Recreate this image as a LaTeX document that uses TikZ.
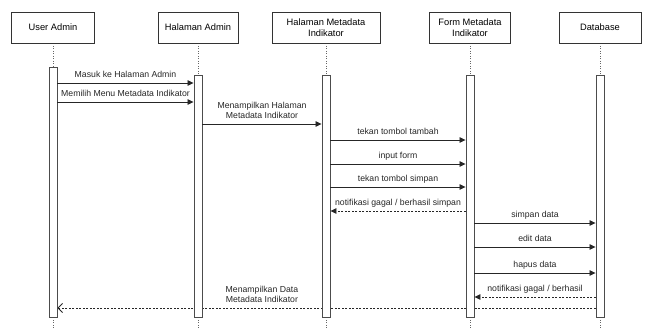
\documentclass[tikz,border=0pt]{standalone}
\usepackage{fontspec}
\setmainfont{Liberation Sans}
\usetikzlibrary{arrows.meta,backgrounds}

\tikzset{
  obj/.style={draw=black!80, fill=white, line width=0.8pt, minimum height=31pt, inner sep=1pt,
    align=center, font=\fontsize{9.3}{11}\selectfont},
  bar/.style={draw=black!70, fill=white, line width=0.9pt, minimum width=8pt, inner sep=0pt},
  life/.style={black!60, line width=0.7pt, dash pattern=on 1pt off 1.5pt},
  msg/.style={black!85, line width=0.8pt, -{Triangle[length=6pt,width=5.5pt]}},
  ret/.style={msg, dash pattern=on 2pt off 1.5pt},
  lbl/.style={above=3pt, inner sep=0pt, text height=6.3pt, text depth=1.8pt,
    align=center, font=\fontsize{8.7}{10.5}\selectfont}
}

\begin{document}
\begin{tikzpicture}[x=1pt, y=-1pt]
  \useasboundingbox (0,0) rectangle (648,329);
  %%objects
  \node[obj, minimum width=83pt] (ua) at (53,27.5) {User Admin};
  \node[obj, minimum width=80pt] (ha) at (198,27.5) {Halaman Admin};
  \node[obj, minimum width=108pt] (hm) at (326,27.5) {Halaman Metadata\\Indikator};
  \node[obj, minimum width=81pt] (fm) at (470,27.5) {Form Metadata\\Indikator};
  \node[obj, minimum width=82pt] (db) at (600,27.5) {Database};

  %%activation bars
  \node[bar, minimum height=250pt] (uab) at (53,192) {};
  \node[bar, minimum height=242pt] (hab) at (198,196) {};
  \node[bar, minimum height=242pt] (hmb) at (326,196) {};
  \node[bar, minimum height=242pt] (fmb) at (470,196) {};
  \node[bar, minimum height=242pt] (dbb) at (600,196) {};

  \begin{scope}[on background layer]
    %%lifelines
    \foreach \o/\b in {ua/uab, ha/hab, hm/hmb, fm/fmb, db/dbb} {
      \draw[life] (\o.south) -- (\b.north);
      \draw[life] (\b.south) -- (\b.south |- 0,329);
    }
    %%back to user
    \draw[black!85, line width=0.8pt, dash pattern=on 2pt off 1.5pt,
      -{Straight Barb[length=4.5pt,width=9pt]}] (dbb.west |- 0,308)
      -- node[lbl, pos=0.62]{Menampilkan Data\\Metadata Indikator} (uab.east |- 0,308);
  \end{scope}

  %%messages
  \draw[msg] (uab.east |- 0,83) -- node[lbl]{Masuk ke Halaman Admin} (hab.west |- 0,83);
  \draw[msg] (uab.east |- 0,102) -- node[lbl]{Memilih Menu Metadata Indikator} (hab.west |- 0,102);
  \draw[msg] (hab.east |- 0,124) -- node[lbl]{Menampilkan Halaman\\Metadata Indikator} (hmb.west |- 0,124);
  \draw[msg] (hmb.east |- 0,140) -- node[lbl]{tekan tombol tambah} (fmb.west |- 0,140);
  \draw[msg] (hmb.east |- 0,164) -- node[lbl]{input form} (fmb.west |- 0,164);
  \draw[msg] (hmb.east |- 0,187) -- node[lbl]{tekan tombol simpan} (fmb.west |- 0,187);
  \draw[ret] (fmb.west |- 0,211) -- node[lbl]{notifikasi gagal / berhasil simpan} (hmb.east |- 0,211);
  \draw[msg] (fmb.east |- 0,223) -- node[lbl]{simpan data} (dbb.west |- 0,223);
  \draw[msg] (fmb.east |- 0,247) -- node[lbl]{edit data} (dbb.west |- 0,247);
  \draw[msg] (fmb.east |- 0,273) -- node[lbl]{hapus data} (dbb.west |- 0,273);
  \draw[ret] (dbb.west |- 0,297) -- node[lbl]{notifikasi gagal / berhasil} (fmb.east |- 0,297);
\end{tikzpicture}
\end{document}
